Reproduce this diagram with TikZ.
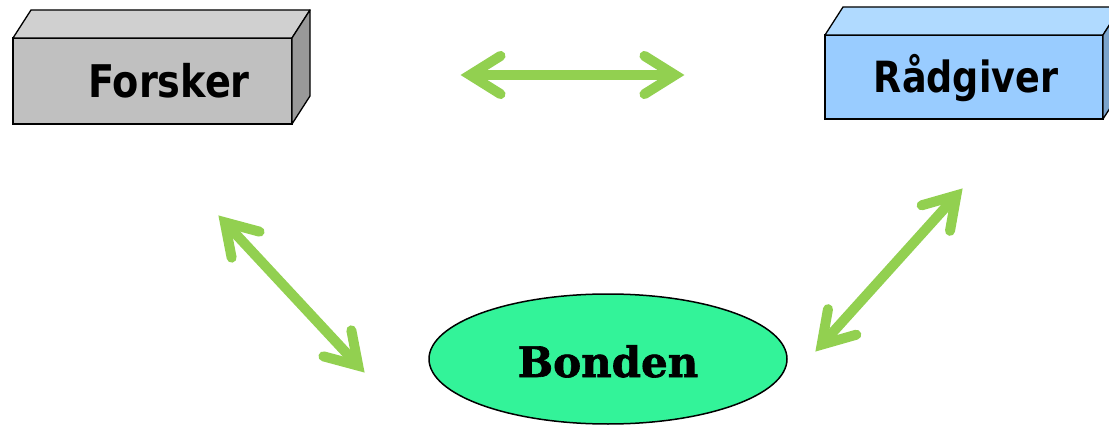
\documentclass[tikz,border=0pt]{standalone}
\usepackage{fontspec}
\usetikzlibrary{calc,shapes.geometric}
\newfontfamily\boxfont[FakeStretch=0.85]{DejaVu Sans Bold}
\newfontfamily\serifbold[FakeBold=1.5]{DejaVu Serif Bold}
\definecolor{grayfront}{HTML}{C0C0C0}
\definecolor{graytop}{HTML}{D0D0D0}
\definecolor{grayside}{HTML}{999999}
\definecolor{bluefront}{HTML}{99CCFF}
\definecolor{bluetop}{HTML}{B0DAFF}
\definecolor{blueside}{HTML}{7BA4CC}
\definecolor{bondgreen}{HTML}{33F399}
\definecolor{arrgreen}{HTML}{92D050}
\tikzset{
  frontbox/.style={draw, line width=1.3pt, inner sep=0pt, outer sep=0pt, rectangle},
  face/.style={draw, line width=1.3pt, line join=round},
  boxlabel/.style={anchor=base, inner sep=0pt, font=\boxfont\fontsize{45}{50}\selectfont},
  arrshaft/.style={draw=arrgreen, line width=10pt},
  arrhead/.style={draw=arrgreen, line width=10pt, line join=miter, line cap=round},
}
\newcommand\dblarrow[2]{%
  \path ($(#1)!10pt!(#2)$) coordinate (#1v) ($(#2)!10pt!(#1)$) coordinate (#2v);
  \draw[arrshaft] (#1v) -- (#2v);
  \draw[arrhead] ($(#1v)!36pt!32:(#2)$) -- (#1v) -- ($(#1v)!36pt!-32:(#2)$);
  \draw[arrhead] ($(#2v)!36pt!32:(#1)$) -- (#2v) -- ($(#2v)!36pt!-32:(#1)$);
}
\begin{document}
\begin{tikzpicture}[x=1pt,y=-1pt]
\useasboundingbox (0,0) rectangle (1109,425);
% Forsker box
\node[frontbox, fill=grayfront, minimum width=279, minimum height=86] (forsker) at (152.5,81) {};
\draw[face, fill=graytop] (forsker.north west) -- ++(18,-28) -- ($(forsker.north east)+(18,-28)$) -- (forsker.north east) -- cycle;
\draw[face, fill=grayside] (forsker.north east) -- ++(18,-28) -- ++(0,86) -- (forsker.south east) -- cycle;
\node[boxlabel] (forskertext) at (169,98) {Forsker};
% Raadgiver box
\node[frontbox, fill=bluefront, minimum width=278, minimum height=84] (raad) at (964,77) {};
\draw[face, fill=bluetop] (raad.north west) -- ++(18,-28) -- ($(raad.north east)+(18,-28)$) -- (raad.north east) -- cycle;
\draw[face, fill=blueside] (raad.north east) -- ++(18,-28) -- ++(0,84) -- (raad.south east) -- cycle;
\node[boxlabel, font=\boxfont\fontsize{43}{50}\selectfont] (raadtext) at (966,93) {Rådgiver};
% Bonden
\node[draw, ellipse, line width=1.5pt, fill=bondgreen, minimum width=358, minimum height=130, inner sep=0pt] (bonden) at (608,359) {};
\node[anchor=base, inner sep=0pt, font=\serifbold\fontsize{42}{50}\selectfont] (bondentext) at (608,377) {Bonden};
% arrows
\coordinate (h1) at (460,75);
\coordinate (h2) at (685,75);
\coordinate (l1) at (218,215);
\coordinate (l2) at (365,373);
\coordinate (r1) at (963,188);
\coordinate (r2) at (815,352);
\dblarrow{h1}{h2}
\dblarrow{l1}{l2}
\dblarrow{r1}{r2}
\end{tikzpicture}
\end{document}
